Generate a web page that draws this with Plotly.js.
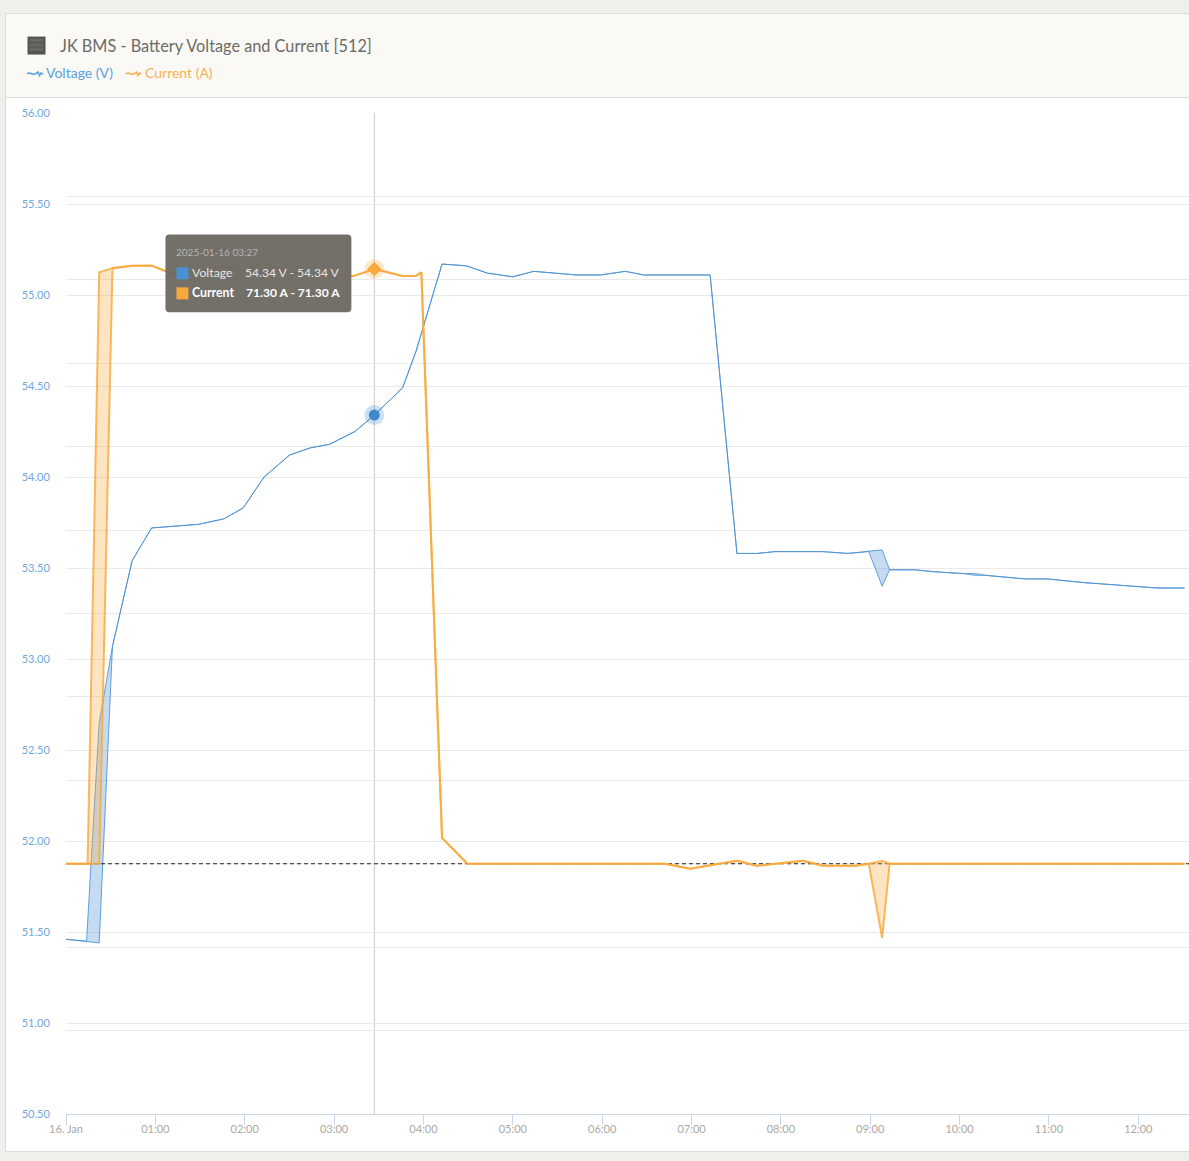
<!DOCTYPE html>
<html>
<head>
<meta charset="utf-8">
<script src="https://cdn.plot.ly/plotly-3.0.1.min.js"></script>
<style>html,body{margin:0;padding:0;background:#f0efeb;overflow:hidden}#chart{width:1189px;height:1161px}</style>
</head>
<body>
<div id="chart"></div>
<script>
const chartTitle = "JK BMS - Battery Voltage and Current [512]";
const voltageName = "Voltage (V)";
const currentName = "Current (A)";

// minutes after 2025-01-16 00:00
const voltageMinutes = [0,13.8,22.3,31.2,44.4,57.5,89,106,119,133,150,164,177,194,207,226,235,252.5,269,283,300,314,328.5,343,359,375.5,388,432.5,450.5,464,476,508,525,539,548,553,570,582,600,602,610,617,644,659,683,712.5,733,751];
const voltageMax = [51.46,51.45,52.65,53.07,53.54,53.72,53.74,53.77,53.83,54.00,54.12,54.16,54.18,54.25,54.34,54.49,54.69,55.17,55.16,55.12,55.10,55.13,55.12,55.11,55.11,55.13,55.11,55.11,53.58,53.58,53.59,53.59,53.58,53.59,53.60,53.49,53.49,53.48,53.47,53.47,53.47,53.46,53.44,53.44,53.42,53.40,53.39,53.39];
const voltageMin = [51.46,51.45,51.44,53.07,53.54,53.72,53.74,53.77,53.83,54.00,54.12,54.16,54.18,54.25,54.34,54.49,54.69,55.17,55.16,55.12,55.10,55.13,55.12,55.11,55.11,55.13,55.11,55.11,53.58,53.58,53.59,53.59,53.58,53.59,53.40,53.49,53.49,53.48,53.47,53.47,53.46,53.46,53.44,53.44,53.42,53.40,53.39,53.39];

const currentMinutes = [0,14.5,22.3,31.2,44.4,57.5,72,92,106,119,132.5,146,164,193,207,226,234.6,238.6,252.5,269.5,402.5,419,450.5,464,495,508,530,539,548,553,751];
const currentMax = [0,0,70.9,71.4,71.7,71.7,70.7,71.05,71.7,71.05,72.05,71.05,70.45,70.45,71.3,70.45,70.45,70.9,3.1,0,0,-0.6,0.36,-0.24,0.36,-0.24,-0.24,0,0.36,0,0];
const currentMin = [0,0,0,71.4,71.7,71.7,70.7,71.05,71.7,71.05,72.05,71.05,70.45,70.45,71.3,70.45,70.45,70.9,3.1,0,0,-0.6,0.36,-0.24,0.36,-0.24,-0.24,0,-8.9,0,0];

const zeroLineValues = [0,0];

const hoverTime = "2025-01-16 03:27";
const hoverVoltage = 54.34;
const hoverCurrent = 71.30;

const xTickValues = ["2025-01-16 00:00","2025-01-16 01:00","2025-01-16 02:00","2025-01-16 03:00","2025-01-16 04:00","2025-01-16 05:00","2025-01-16 06:00","2025-01-16 07:00","2025-01-16 08:00","2025-01-16 09:00","2025-01-16 10:00","2025-01-16 11:00","2025-01-16 12:00"];
const xTickLabels = ["16. Jan","01:00","02:00","03:00","04:00","05:00","06:00","07:00","08:00","09:00","10:00","11:00","12:00"];

const BLUE = "#4a90d2", ORANGE = "#f8a93c";
const FONT = "Lato, 'Open Sans', sans-serif";
const W = 1189, H = 1161, L = 65.5, T = 112.5, B = 1114.5;

function stamp(m){
  const h = Math.floor(m/60), mm = Math.floor(m%60), s = Math.round((m%1)*60);
  const p = n => String(n).padStart(2,"0");
  return `2025-01-16 ${p(h)}:${p(mm)}:${p(s)}`;
}
const vX = voltageMinutes.map(stamp), cX = currentMinutes.map(stamp);
const xEnd = stamp((W-L)/1.49);
const px = x => (x-L)/(W-L), py = y => (B-y)/(B-T);

const band = (x,y,color,width,name,yaxis,fill,fillcolor) => ({
  type:"scatter",mode:"lines",x,y,name,yaxis,fill,fillcolor,showlegend:false,
  line:{color,width,shape:"linear"},hoverinfo:"skip"
});
const dot = (y,color,yaxis,symbol,size,opacity) => ({
  type:"scatter",mode:"markers",x:[hoverTime],y:[y],yaxis,showlegend:false,hoverinfo:"skip",
  marker:{color,size,symbol,opacity,line:{width:0}}
});

const traces = [
  {type:"scatter",mode:"lines",x:["2025-01-16 00:00:00",xEnd],y:zeroLineValues,yaxis:"y2",name:"zero",showlegend:false,hoverinfo:"skip",line:{color:"#222222",width:1,dash:"4px,3px"}},
  band(vX,voltageMin,"rgba(74,144,210,0.85)",1,voltageName+" min","y","none"),
  band(vX,voltageMax,"rgba(74,144,210,0.85)",1,voltageName,"y","tonexty","rgba(74,144,210,0.32)"),
  band(cX,currentMin,"rgba(248,169,60,0.82)",2,currentName+" min","y2","none"),
  band(cX,currentMax,"rgba(248,169,60,0.82)",2,currentName,"y2","tonexty","rgba(248,169,60,0.3)"),
  dot(hoverVoltage,BLUE,"y","circle",20,0.28),
  dot(hoverVoltage,"#4087cc","y","circle",11,1),
  dot(hoverCurrent,ORANGE,"y2","circle",20,0.25),
  dot(hoverCurrent,ORANGE,"y2","diamond",11,1)
];

const rect = (x0,y0,x1,y1,fill,line,layer) => ({type:"rect",xref:"paper",yref:"paper",x0:px(x0),x1:px(x1),y0:py(y0),y1:py(y1),fillcolor:fill,line:line?{color:line,width:1}:{width:0},layer:layer||"below"});
function roundBox(x0,y0,x1,y1,r){
  const X=px,Y=py;
  return `M${X(x0+r)},${Y(y0)} L${X(x1-r)},${Y(y0)} Q${X(x1)},${Y(y0)} ${X(x1)},${Y(y0+r)} L${X(x1)},${Y(y1-r)} Q${X(x1)},${Y(y1)} ${X(x1-r)},${Y(y1)} L${X(x0+r)},${Y(y1)} Q${X(x0)},${Y(y1)} ${X(x0)},${Y(y1-r)} L${X(x0)},${Y(y0+r)} Q${X(x0)},${Y(y0)} ${X(x0+r)},${Y(y0)} Z`;
}
// small legend glyph: a short wiggly stroke starting at x0
const wiggleOffsets = [[0,0],[3,-0.5],[6,1],[9,0],[11,-1.5],[12.5,2],[14,-0.5],[16,0.5]];
function wiggle(x0,y0,color){
  const path = wiggleOffsets.map((p,i)=>`${i?"L":"M"}${px(x0+p[0])},${py(y0+p[1])}`).join(" ");
  return {type:"path",xref:"paper",yref:"paper",path,line:{color,width:1.5},layer:"below"};
}
const shapes = [
  rect(5,13,1195,1152,"#ffffff","#dcdbd6"),
  rect(5,13,1195,97,"#faf9f5","#dcdbd6"),
  rect(27,36,45,54,"#55534e",null),
  rect(29,38,43,41.5,"#686661",null),
  rect(29,42.5,43,46,"#686661",null),
  rect(29,47,43,50.5,"#686661",null),
  wiggle(26.5,73,"#5c9fdd"),
  wiggle(125,73,"#f9b055"),
  {type:"line",xref:"x",yref:"paper",x0:hoverTime,x1:hoverTime,y0:0,y1:1,line:{color:"#c8c8c8",width:1},layer:"below"},
  {type:"path",xref:"paper",yref:"paper",path:roundBox(165,234,351,312,4),fillcolor:"rgba(106,103,97,0.94)",line:{width:0},layer:"above"},
  rect(176,267,188,279,BLUE,null,"above"),
  rect(176,287,188,299,ORANGE,null,"above")
];

const note = (text,x,y,size,color,anchor,bold) => ({
  xref:"paper",yref:"paper",x:px(x),y:py(y),text:bold?`<b>${text}</b>`:text,showarrow:false,
  xanchor:anchor||"left",yanchor:"middle",
  font:{family:FONT,size,color},borderpad:0
});
const annotations = [
  note(chartTitle,58.5,44.5,16.3,"#6d6c66"),
  note(voltageName,44.5,72,14,"#5c9fdd"),
  note(currentName,143.5,72,14,"#f9b055"),
  note("2025-01-16 03:27",175,252,10,"#b5b4ae"),
  note("Voltage",191,272.5,12.3,"#e6e5e1"),
  note("54.34 V - 54.34 V",341,272.5,12.1,"#e6e5e1","right"),
  note("Current",191,292.5,12.3,"#ffffff","left",true),
  note("71.30 A - 71.30 A",341,292.5,12.1,"#ffffff","right",true)
];

const layout = {
  width:W,height:H,
  margin:{l:L,r:0,t:T,b:H-B,pad:0},
  paper_bgcolor:"#f0efeb",plot_bgcolor:"rgba(0,0,0,0)",
  font:{family:FONT},showlegend:false,hovermode:false,
  xaxis:{type:"date",range:["2025-01-16 00:00:00",xEnd],tickmode:"array",tickvals:xTickValues,ticktext:xTickLabels,
    ticks:"outside",ticklen:10,tickcolor:"#ccd6eb",tickwidth:1,showline:true,linecolor:"#ccd6eb",linewidth:1,showgrid:false,zeroline:false,
    ticklabelstandoff:-5,tickfont:{family:FONT,size:11,color:"#a9a9a6"}},
  yaxis:{range:[50.5,56],dtick:0.5,tick0:50.5,tickformat:".2f",showgrid:true,gridcolor:"#e9e9e9",gridwidth:1,zeroline:false,showline:false,
    ticks:"outside",ticklen:13,tickcolor:"rgba(0,0,0,0)",tickfont:{family:FONT,size:11,color:"#6ea8de"}},
  yaxis2:{overlaying:"y",side:"right",range:[-30,90],dtick:10,tick0:0,showticklabels:false,showgrid:true,gridcolor:"#e9e9e9",gridwidth:1,zeroline:false,showline:false,ticks:""},
  shapes,annotations
};
Plotly.newPlot("chart",traces,layout,{displayModeBar:false,staticPlot:true});
</script>
</body>
</html>
